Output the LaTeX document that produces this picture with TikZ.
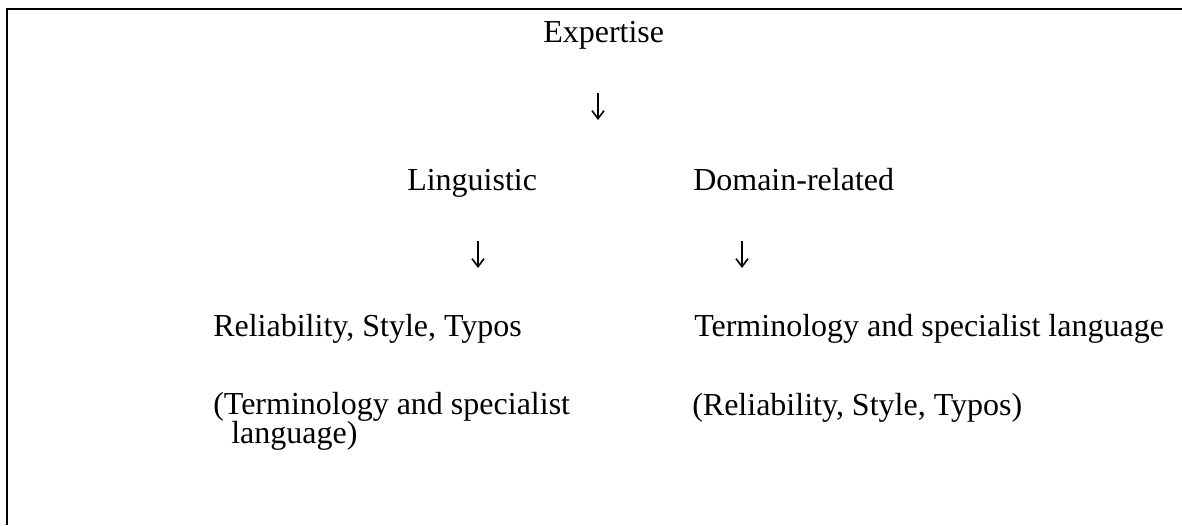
\documentclass[tikz,border=0pt]{standalone}
\usepackage{fontspec}
\setmainfont{Liberation Serif}
\usetikzlibrary{positioning,arrows.meta}

\begin{document}
\begin{tikzpicture}[
    x=0.75pt, y=-0.75pt,
    labelText/.style={inner sep=0pt, anchor=base west, font=\fontsize{24}{21}\selectfont, align=left},
    downArrow/.style={-{Straight Barb[length=6pt, width=9pt]}, line width=1.2pt}
]
    \useasboundingbox (0,0) rectangle (1182,525);
    \draw[line width=1.5pt] (1182,9) -| (7,525);

    \node[labelText] (expertise) at (543,42) {Expertise};
    \node[labelText] (linguistic) at (407,190) {Linguistic};
    \node[labelText] (domain) at (693,190) {Domain-related};
    \node[labelText] (lingMain) at (213,336) {Reliability, Style, Typos};
    \node[labelText] (domMain) at (694,336) {Terminology and specialist language};
    % base of a two-line node sits on its last line
    \node[labelText] (lingSide) at (213,443) {(Terminology and specialist\\[-1.8pt]\hspace*{13.5pt}language)};
    \node[labelText] (domSide) at (692,415) {(Reliability, Style, Typos)};

    \coordinate (expDown) at (598,93);
    \coordinate (lingDown) at (478,241);
    \coordinate (domDown) at (742,241);
    \draw[downArrow] (expDown) -- ++(0,27);
    \draw[downArrow] (lingDown) -- ++(0,27);
    \draw[downArrow] (domDown) -- ++(0,27);
\end{tikzpicture}
\end{document}
